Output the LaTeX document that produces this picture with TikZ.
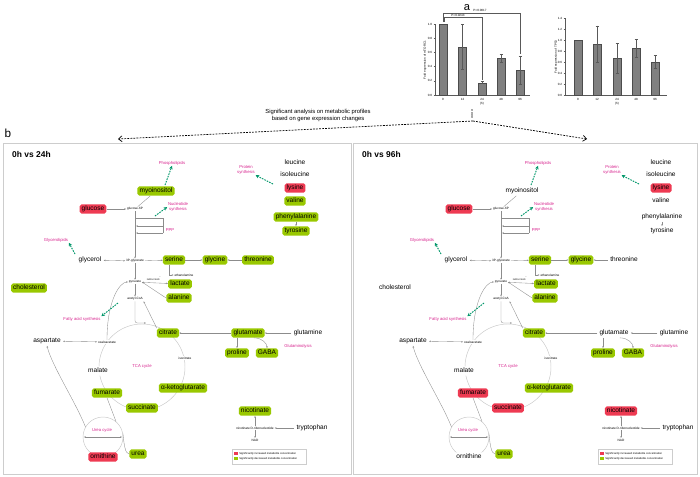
\documentclass[tikz,border=0pt]{standalone}
\usepackage{fontspec}
\setmainfont{Liberation Sans}
\usetikzlibrary{arrows.meta}

\definecolor{upred}{RGB}{238,58,82}
\definecolor{downgreen}{RGB}{153,200,0}
\definecolor{pathpink}{RGB}{214,32,140}
\definecolor{exportgreen}{RGB}{0,150,105}
\definecolor{linegray}{RGB}{140,140,140}
\definecolor{cyclegray}{RGB}{200,200,200}
\definecolor{framegray}{RGB}{205,205,205}

\newcommand{\metfont}{\fontsize{5.6}{6.4}\selectfont}
\newcommand{\pathfont}{\fontsize{3.6}{4.2}\selectfont}
\newcommand{\smallfont}{\fontsize{2.7}{3.2}\selectfont}

\tikzset{
  met/.style={font=\metfont, text height=4.1pt, text depth=1.2pt, inner xsep=1.8pt, inner ysep=1.3pt, rounded corners=1.6pt},
  up/.style={met, fill=upred},
  down/.style={met, fill=downgreen},
  nc/.style={met, fill=white},
  tinylabel/.style={font=\smallfont, inner sep=0.6pt, fill=white},
  pathlabel/.style={font=\pathfont, text=pathpink, align=center, inner sep=0.5pt},
  flow/.style={draw=linegray, line width=0.3pt, -{Stealth[length=1.6pt,width=1.3pt]}},
  twoway/.style={draw=linegray, line width=0.3pt, {Stealth[length=1.6pt,width=1.3pt]}-{Stealth[length=1.6pt,width=1.3pt]}},
  link/.style={draw=linegray, line width=0.3pt},
  export/.style={draw=exportgreen, line width=0.8pt, dash pattern=on 1.4pt off 0.9pt, -{Stealth[length=3pt,width=3pt]}},
  cyc/.style={circle, draw=cyclegray, line width=0.4pt, inner sep=0pt},
  bigdash/.style={black, line width=0.6pt, dash pattern=on 1.6pt off 1pt, -{Straight Barb[length=3pt,width=5pt]}},
  bar/.style={fill=black!50, draw=black!70, line width=0.3pt},
  axis/.style={black!65, line width=0.3pt},
  charttext/.style={font=\fontsize{2.6}{3}\selectfont, inner sep=0.5pt},
}

% one metabolic map, colours come from the c-... styles of the scope
\newcommand{\metabmap}{%
  \node[cyc, minimum size=2.58cm] (tca) at (142,367) {};
  \node[cyc, minimum size=1.2cm] (ureacyc) at (103,437) {};

  \node[up] (glucose) at (93,209) {glucose};
  \node[tinylabel] (g6p) at (135,209) {glucose-6P};
  \node[c-myo] (myo) at (156,191) {myoinositol};
  \node[pathlabel] (phospho) at (172,163) {Phospholipids};
  \node[pathlabel] (nucleo) at (178,207) {Nucleotide\\synthesis};
  \node[pathlabel] (ppp) at (170,230) {PPP};
  \node[pathlabel] (protein) at (246,170) {Protein\\synthesis};
  \node[nc] (leucine) at (295,163) {leucine};
  \node[nc] (isoleucine) at (295,175) {isoleucine};
  \node[up] (lysine) at (295,188) {lysine};
  \node[c-val] (valine) at (295,201) {valine};
  \node[c-phe] (phe) at (296,217) {phenylalanine};
  \node[c-tyr] (tyr) at (296,231) {tyrosine};

  \node[pathlabel] (glycerolipids) at (56,240) {Glycerolipids};
  \node[nc] (glycerol) at (90,260) {glycerol};
  \node[tinylabel] (pg3) at (135,261) {3P-glycerate};
  \node[down] (serine) at (174,260) {serine};
  \node[down] (glycine) at (215,260) {glycine};
  \node[c-thr] (thr) at (258,260) {threonine};
  \node[tinylabel] (ethanolamine) at (184,275) {ethanolamine};
  \node[tinylabel] (pyruvate) at (135,282) {pyruvate};
  \node[font=\fontsize{2}{2.4}\selectfont, inner sep=0.3pt] (nadh) at (154,278.5) {NADH\enspace NAD\textsuperscript{+}};
  \node[down] (lactate) at (180,284) {lactate};
  \node[down] (alanine) at (179,298) {alanine};
  \node[tinylabel] (acoa) at (135,299) {acetyl-CoA};
  \node[c-chol] (chol) at (29,288) {cholesterol};
  \node[pathlabel] (fatty) at (82,319) {Fatty acid synthesis};

  \node[down] (citrate) at (168,333) {citrate};
  \node[c-glu] (glutamate) at (248,333) {glutamate};
  \node[nc] (glutamine) at (308,333) {glutamine};
  \node[nc] (aspartate) at (47,341) {aspartate};
  \node[tinylabel] (oaa) at (107,342) {oxaloacetate};
  \node[pathlabel] (glutaminolysis) at (298,346) {Glutaminolysis};
  \node[down] (proline) at (237,353) {proline};
  \node[down] (gaba) at (267,353) {GABA};
  \node[tinylabel] (isocitrate) at (185,358) {isocitrate};
  \node[pathlabel] (tcalabel) at (142,366) {TCA cycle};
  \node[nc] (malate) at (98,371) {malate};
  \node[down] (akg) at (183,388) {α-ketoglutarate};
  \node[c-fum] (fumarate) at (107,393) {fumarate};
  \node[c-suc] (succinate) at (142,408) {succinate};

  \node[c-nic] (nicotinate) at (255,411) {nicotinate};
  \node[tinylabel] (ndr) at (255,428) {nicotinate D-ribonucleotide};
  \node[nc] (tryptophan) at (312,428) {tryptophan};
  \node[tinylabel] (nad) at (255,440) {NAD};

  \node[pathlabel] (urealabel) at (102,430) {Urea cycle};
  \node[c-orn] (ornithine) at (103,457) {ornithine};
  \node[down] (urea) at (138,454) {urea};

  % legend
  \draw[framegray, line width=0.3pt, fill=white] (232,449) rectangle (306,464);
  \node[fill=upred, inner sep=0pt, minimum size=2.6pt] (keyup) at (236,453.5) {};
  \node[fill=downgreen, inner sep=0pt, minimum size=2.6pt] (keydown) at (236,458.5) {};
  \node[font=\fontsize{2.3}{2.8}\selectfont, anchor=west, inner sep=0.5pt] (keyuptext) at (238.5,453.5) {Significantly increased metabolite concentration};
  \node[font=\fontsize{2.3}{2.8}\selectfont, anchor=west, inner sep=0.5pt] (keydowntext) at (238.5,458.5) {Significantly decreased metabolite concentration};

  % connectors
  \draw[flow] (glucose) -- (g6p);
  \draw[link] (g6p) -- (myo);
  \draw[flow] (g6p) -- (pg3);
  \coordinate (pppa) at (135,218);
  \coordinate (pppb) at (163,233);
  \coordinate (pppc) at (163,226);
  \coordinate (pppd) at (136,226);
  \coordinate (pppe) at (136,233);
  \draw[link] (pppa) -| (pppb);
  \draw[flow] (pppc) -- (pppd);
  \draw[flow] (pppb) -- (pppe);
  \coordinate (phs) at (165,185);
  \draw[export] (phs) -- (phospho.south);
  \coordinate (nus) at (155,216);
  \draw[export] (nus) -- (nucleo.west);
  \coordinate (prs) at (273,184);
  \draw[export] (prs) -- (protein.south east);
  \draw[flow] (phe) -- (tyr);
  \coordinate (gls) at (75,254);
  \draw[export] (gls) -- (glycerolipids.south east);
  \draw[twoway] (glycerol) -- (pg3);
  \draw[flow] (pg3) -- (serine);
  \draw[flow] (serine) -- (glycine);
  \draw[flow] (thr) -- (glycine);
  \draw[flow] ([xshift=-4pt]serine.south) |- (ethanolamine.west);
  \draw[flow] (pg3) -- (pyruvate);
  \draw[twoway] (pyruvate) -- (lactate);
  \draw[flow] (alanine.west) -- (pyruvate.east);
  \draw[flow] (pyruvate) -- (acoa);
  \coordinate (tcain) at (146,323);
  \draw[flow, rounded corners=2pt] (acoa) |- (tcain);
  \draw[flow] (citrate.north west) -- (acoa.south east);
  \draw[flow] (oaa.north) .. controls +(0,-40) and +(-8,0) .. (pyruvate.west);
  \coordinate (fas) at (118,303);
  \draw[export] (fas) -- (fatty.north east);
  \draw[twoway] (aspartate) -- (oaa);
  \draw[flow] (glutamate) -- (citrate);
  \draw[flow] (glutamine) -- (glutamate);
  \draw[flow] (glutamate.south -| proline) -- (proline);
  \draw[flow] ([xshift=5pt]glutamate.south) .. controls +(8,0) and +(0,-5) .. (gaba.north);
  \draw[link] (fumarate.south) -- (ureacyc.50);
  \draw[flow] (ureacyc.150) .. controls +(-10,-25) and +(5,20) .. (aspartate.south);
  \draw[twoway] ([xshift=1pt]ureacyc.west) -- ([xshift=-1pt]ureacyc.east);
  \draw[link] (ureacyc.10) .. controls +(1,10) and +(-4,0) .. (urea.west);
  \draw[flow] (ndr) -- (nicotinate);
  \draw[flow] (ndr) -- (nad);
  \draw[flow] (tryptophan) -- (ndr);
}

\begin{document}
\begin{tikzpicture}[x=0.03cm, y=-0.03cm]
\useasboundingbox (0,0) rectangle (700,477);

% panel a, left chart
\node[font=\fontsize{9.5}{11}\selectfont, inner sep=0pt] (labela) at (467,8) {a};
\draw[axis] (435,24) -- (435,95) -- (530,95);
\draw[axis] (433.5,95) -- (435,95) (433.5,80.8) -- (435,80.8) (433.5,66.6) -- (435,66.6)
  (433.5,52.4) -- (435,52.4) (433.5,38.2) -- (435,38.2) (433.5,24) -- (435,24);
\node[charttext, anchor=east] (ly0) at (433,95) {0.0};
\node[charttext, anchor=east] (ly1) at (433,80.8) {0.2};
\node[charttext, anchor=east] (ly2) at (433,66.6) {0.4};
\node[charttext, anchor=east] (ly3) at (433,52.4) {0.6};
\node[charttext, anchor=east] (ly4) at (433,38.2) {0.8};
\node[charttext, anchor=east] (ly5) at (433,24) {1.0};
\node[charttext, rotate=90] (lylabel) at (425,60) {Fold expression of mTORC1};
\draw[bar] (439,95) rectangle (447,24);
\draw[bar] (458.5,95) rectangle (466.5,46.7);
\draw[bar] (478,95) rectangle (486,82.9);
\draw[bar] (497,95) rectangle (505,58.1);
\draw[bar] (516,95) rectangle (524,70.1);
\draw[axis] (462.5,24) -- (462.5,69.4) (461,24) -- (464,24) (461,69.4) -- (464,69.4);
\draw[axis] (482,81.5) -- (482,84.3) (480.5,81.5) -- (483.5,81.5);
\draw[axis] (501,54) -- (501,62.3) (499.5,54) -- (502.5,54) (499.5,62.3) -- (502.5,62.3);
\draw[axis] (520,56) -- (520,84.3) (518.5,56) -- (521.5,56) (518.5,84.3) -- (521.5,84.3);
\draw[axis] (443,22) -- (443,13) -- (520,13) -- (520,54);
\draw[axis] (444,22) -- (444,17) -- (482,17) -- (482,80);
\node[charttext] (lpa) at (480,10.8) {P=0.0017};
\node[charttext] (lpb) at (458,15) {P=0.0243};
\node[charttext] (lx0) at (443,99) {0};
\node[charttext] (lx1) at (462.5,99) {12};
\node[charttext] (lx2) at (482,99) {24};
\node[charttext] (lx3) at (501,99) {48};
\node[charttext] (lx4) at (520,99) {96};
\node[charttext] (lxlabel) at (482,104) {(h)};

% panel a, right chart
\draw[axis] (565,18) -- (565,95) -- (667,95);
\draw[axis] (563.5,95) -- (565,95) (563.5,84) -- (565,84) (563.5,73) -- (565,73) (563.5,62) -- (565,62)
  (563.5,51) -- (565,51) (563.5,40) -- (565,40) (563.5,29) -- (565,29) (563.5,18) -- (565,18);
\node[charttext, anchor=east] (ry0) at (563,95) {0.0};
\node[charttext, anchor=east] (ry1) at (563,84) {0.2};
\node[charttext, anchor=east] (ry2) at (563,73) {0.4};
\node[charttext, anchor=east] (ry3) at (563,62) {0.6};
\node[charttext, anchor=east] (ry4) at (563,51) {0.8};
\node[charttext, anchor=east] (ry5) at (563,40) {1.0};
\node[charttext, anchor=east] (ry6) at (563,29) {1.2};
\node[charttext, anchor=east] (ry7) at (563,18) {1.4};
\node[charttext, rotate=90] (rylabel) at (556,57) {Fold expression of TP53};
\draw[bar] (574,95) rectangle (582,40);
\draw[bar] (593,95) rectangle (601,43.9);
\draw[bar] (613,95) rectangle (621,58.2);
\draw[bar] (632,95) rectangle (640,48.3);
\draw[bar] (651,95) rectangle (659,62);
\draw[axis] (597,25.7) -- (597,62) (595.5,25.7) -- (598.5,25.7) (595.5,62) -- (598.5,62);
\draw[axis] (617,43.3) -- (617,73) (615.5,43.3) -- (618.5,43.3) (615.5,73) -- (618.5,73);
\draw[axis] (636,39.5) -- (636,57) (634.5,39.5) -- (637.5,39.5) (634.5,57) -- (637.5,57);
\draw[axis] (655,55.4) -- (655,68.6) (653.5,55.4) -- (656.5,55.4) (653.5,68.6) -- (656.5,68.6);
\node[charttext] (rx0) at (578,99) {0};
\node[charttext] (rx1) at (597,99) {12};
\node[charttext] (rx2) at (617,99) {24};
\node[charttext] (rx3) at (636,99) {48};
\node[charttext] (rx4) at (655,99) {96};
\node[charttext] (rxlabel) at (617,104) {(h)};

% link from a to b
\node[font=\fontsize{5}{6.2}\selectfont, align=center, inner sep=0pt] (summary) at (318,115.5) {Significant analysis on metabolic profiles\\based on gene expression changes};
\node[font=\fontsize{4.5}{5}\selectfont, rotate=90, inner sep=0.2pt] (stars) at (473,114) {****};
\coordinate (hub) at (473,121);
\coordinate (tipL) at (118,139);
\coordinate (tipR) at (587,139);
\draw[bigdash] (hub) -- (tipL);
\draw[bigdash] (hub) -- (tipR);

% panel b
\node[font=\fontsize{10}{12}\selectfont, inner sep=0pt] (labelb) at (8,133) {b};
\draw[framegray, line width=0.6pt] (3,143) rectangle (351,474);
\draw[framegray, line width=0.6pt] (353,143) rectangle (697,474);
\node[font=\fontsize{7.2}{8}\selectfont\bfseries, anchor=west, inner sep=0pt] (titleL) at (12,154) {0h vs 24h};
\node[font=\fontsize{7.2}{8}\selectfont\bfseries, anchor=west, inner sep=0pt] (titleR) at (362,154) {0h vs 96h};

\begin{scope}[name prefix=L-, c-myo/.style=down, c-val/.style=down, c-phe/.style=down, c-tyr/.style=down,
  c-thr/.style=down, c-chol/.style=down, c-glu/.style=down, c-fum/.style=down, c-suc/.style=down,
  c-nic/.style=down, c-orn/.style=up]
\metabmap
\end{scope}

\begin{scope}[shift={(366,0)}, name prefix=R-, c-myo/.style=nc, c-val/.style=nc, c-phe/.style=nc, c-tyr/.style=nc,
  c-thr/.style=nc, c-chol/.style=nc, c-glu/.style=nc, c-fum/.style=up, c-suc/.style=up,
  c-nic/.style=up, c-orn/.style=nc]
\metabmap
\end{scope}
\end{tikzpicture}
\end{document}
